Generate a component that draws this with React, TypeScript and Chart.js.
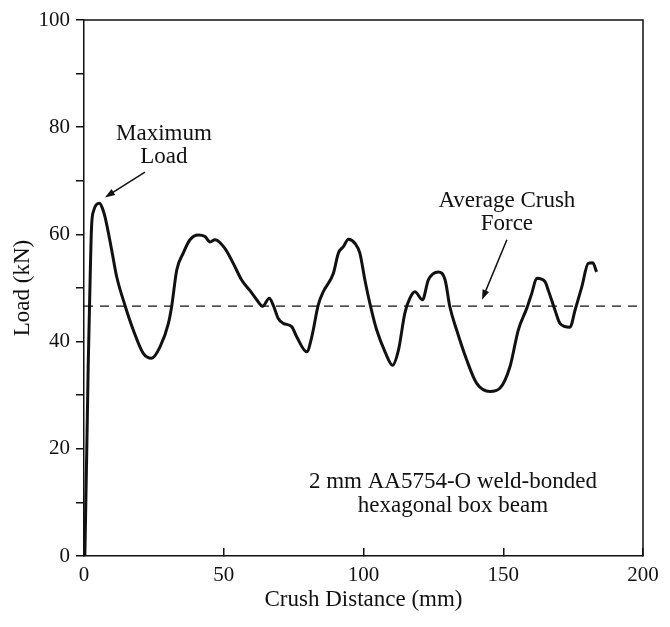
import React, { useEffect, useRef } from "react";
import { Chart, registerables } from "chart.js";

Chart.register(...registerables);

// Crush distance (mm) of the measured load curve
const crushDistance = [
  0.3, 1.0, 1.5, 2.0, 2.7, 3.5, 4.5, 5.5, 6.5, 7.5,
  9.9, 11.7, 14.7, 17.6, 21.2, 24.2, 27.2, 30.2, 31.4, 33.2,
  35.5, 37.9, 40.9, 43.3, 45.1, 46.9, 50.4, 53.4, 56.4, 59.4,
  61.8, 63.9, 66.3, 67.7, 69.5, 71.3, 74.3, 76.1, 79.7, 81.5,
  83.8, 85.6, 89.2, 91.0, 92.8, 94.6, 97.0, 98.7, 100.5, 102.3,
  104.7, 107.7, 110.4, 112.5, 114.8, 116.6, 118.4, 121.1, 123.2, 126.8,
  129.2, 130.9, 133.3, 136.9, 140.5, 145.3, 148.8, 152.4, 155.4, 158.4,
  160.2, 162.0, 164.9, 166.1, 168.5, 170.3, 173.9, 175.7, 178.1, 180.4,
  182.0, 183.4,
];
// Load (kN)
const loadValues = [
  0, 20, 35.3, 47.2, 61.4, 64.5, 65.6, 65.8, 65.0, 63.3,
  57.1, 52.1, 46.7, 42.2, 37.8, 36.9, 39.0, 43.4, 46.7, 53.4,
  56.5, 59.0, 59.9, 59.6, 58.6, 59.0, 57.4, 54.6, 51.5, 49.5,
  47.8, 46.6, 48.1, 46.8, 44.3, 43.4, 42.8, 40.9, 38.1, 40.9,
  46.8, 49.3, 52.7, 56.5, 57.7, 59.1, 58.3, 56.5, 51.5, 47.1,
  42.2, 38.1, 35.6, 38.4, 45.3, 48.1, 49.3, 47.8, 51.5, 53.0,
  51.5, 46.5, 42.2, 36.6, 32.2, 30.7, 31.3, 35.3, 42.2, 46.2,
  49.0, 51.8, 51.2, 49.6, 45.9, 43.4, 42.7, 45.9, 50.2, 54.6,
  54.7, 53.0,
];
const averageCrushForce = 46.6;
const averageRange = [0, 200];

const xTitle = "Crush Distance (mm)";
const yTitle = "Load (kN)";
const maxLoadLabel = ["Maximum", "Load"];
const avgLabel = ["Average Crush", "Force"];
const specimenLabel = ["2 mm AA5754-O weld-bonded", "hexagonal box beam"];

const FONT = "'Liberation Serif', 'Times New Roman', serif";
const INK = "#111";

const annotationPlugin = {
  id: "annotations",
  afterDraw(chart: any) {
    const { ctx, chartArea, scales } = chart;
    const xs = scales.x;
    const ys = scales.y;
    ctx.save();
    // frame (top and right)
    ctx.strokeStyle = INK;
    ctx.lineWidth = 1.5;
    ctx.beginPath();
    ctx.moveTo(chartArea.left, chartArea.top);
    ctx.lineTo(chartArea.right, chartArea.top);
    ctx.lineTo(chartArea.right, chartArea.bottom);
    ctx.stroke();

    ctx.fillStyle = INK;
    ctx.font = `23px ${FONT}`;
    ctx.textAlign = "center";
    ctx.textBaseline = "middle";
    const text = (lines: string[], x: number, y: number, gap: number) => {
      lines.forEach((l, i) => {
        ctx.fillText(l, xs.getPixelForValue(x), ys.getPixelForValue(y) + i * gap);
      });
    };
    text(maxLoadLabel, 28.6, 78.7, 23);
    text(avgLabel, 151.3, 66.2, 23);
    text(specimenLabel, 132.0, 13.8, 24);

    const arrow = (x1: number, y1: number, x2: number, y2: number) => {
      const px1 = xs.getPixelForValue(x1), py1 = ys.getPixelForValue(y1);
      const px2 = xs.getPixelForValue(x2), py2 = ys.getPixelForValue(y2);
      const ang = Math.atan2(py2 - py1, px2 - px1);
      const hl = 10, hw = 3.5;
      ctx.lineWidth = 1.5;
      ctx.beginPath();
      ctx.moveTo(px1, py1);
      ctx.lineTo(px2 - Math.cos(ang) * hl * 0.8, py2 - Math.sin(ang) * hl * 0.8);
      ctx.stroke();
      ctx.beginPath();
      ctx.moveTo(px2, py2);
      ctx.lineTo(px2 - Math.cos(ang) * hl - Math.sin(ang) * hw, py2 - Math.sin(ang) * hl + Math.cos(ang) * hw);
      ctx.lineTo(px2 - Math.cos(ang) * hl + Math.sin(ang) * hw, py2 - Math.sin(ang) * hl - Math.cos(ang) * hw);
      ctx.closePath();
      ctx.fill();
    };
    arrow(21.8, 71.6, 7.5, 66.9);
    arrow(151.3, 59.0, 142.4, 47.8);
    ctx.restore();
  },
};

export default function App() {
  const ref = useRef<HTMLCanvasElement>(null);
  useEffect(() => {
    if (!ref.current) return;
    const chart = new Chart(ref.current, {
      type: "line",
      data: {
        datasets: [
          {
            data: crushDistance.map((x, i) => ({ x, y: loadValues[i] })),
            borderColor: INK,
            borderWidth: 3,
            pointRadius: 0,
            cubicInterpolationMode: "monotone",
            fill: false,
          },
          {
            data: averageRange.map((x) => ({ x, y: averageCrushForce })),
            borderColor: INK,
            borderWidth: 1.3,
            borderDash: [9, 7],
            pointRadius: 0,
            fill: false,
          },
        ],
      },
      options: {
        responsive: false,
        animation: false,
        devicePixelRatio: 1,
        layout: { padding: { top: 20, right: 27, left: 0, bottom: 0 } },
        plugins: { legend: { display: false }, tooltip: { enabled: false } },
        scales: {
          x: {
            type: "linear",
            min: 0,
            max: 200,
            afterFit: (s: any) => {
              s.height = 71;
              s.paddingRight = 0;
              s.paddingLeft = 0;
            },
            ticks: {
              stepSize: 50,
              color: INK,
              font: { family: FONT, size: 21 },
              padding: 15,
              maxRotation: 0,
            },
            grid: { drawOnChartArea: false, tickLength: -8, color: INK, lineWidth: 1.5 },
            border: { color: INK, width: 1.5 },
            title: {
              display: true,
              text: xTitle,
              color: INK,
              font: { family: FONT, size: 23 },
              padding: { top: 0, bottom: 13 },
            },
          },
          y: {
            min: 0,
            max: 100,
            afterFit: (s: any) => {
              s.width = 84;
              s.paddingTop = 0;
              s.paddingBottom = 0;
            },
            ticks: {
              stepSize: 10,
              color: INK,
              font: { family: FONT, size: 21 },
              padding: 6,
              callback: (v: any) => (v % 20 === 0 ? String(v) : ""),
            },
            grid: { drawOnChartArea: false, tickLength: 8, color: INK, lineWidth: 1.5 },
            border: { color: INK, width: 1.5 },
            title: {
              display: true,
              text: yTitle,
              color: INK,
              font: { family: FONT, size: 23 },
              padding: { top: 9, bottom: 0 },
            },
          },
        },
      },
      plugins: [annotationPlugin],
    } as any);
    return () => chart.destroy();
  }, []);
  return (
    <div style={{ position: "absolute", left: 0, top: 0, width: 670, height: 627, background: "#fff" }}>
      <canvas ref={ref} width={670} height={627} />
    </div>
  );
}
